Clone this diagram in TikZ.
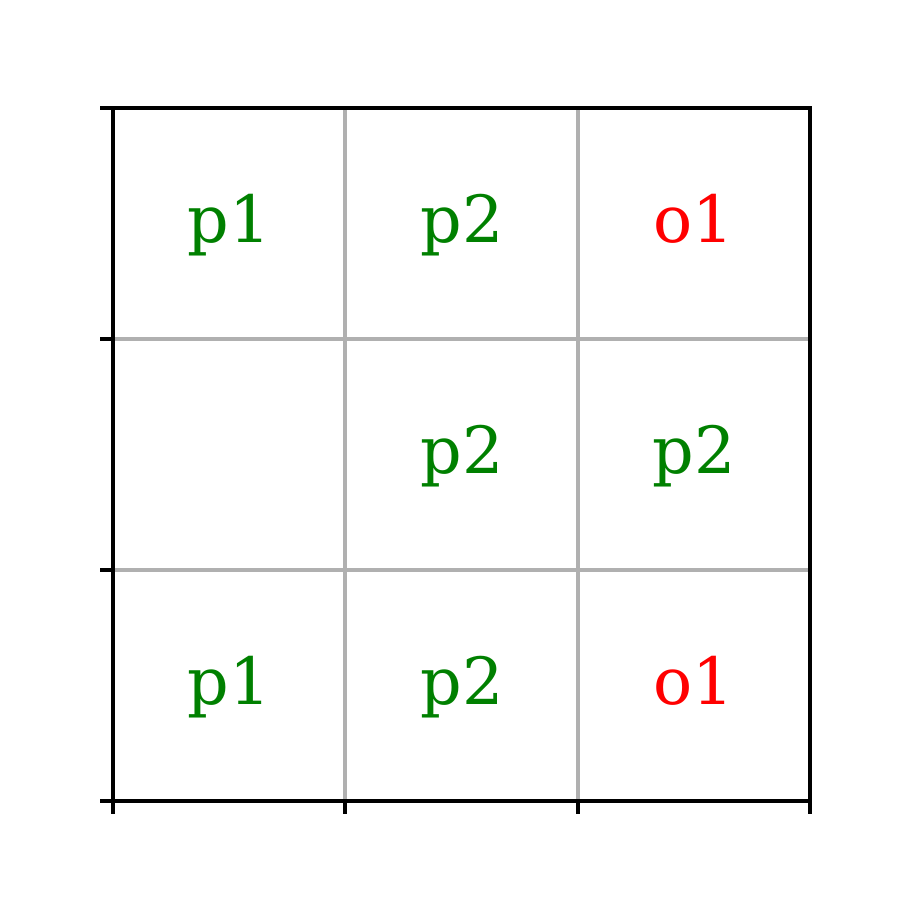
\documentclass[tikz,border=0pt]{standalone}
\usepackage{fontspec}
\setmainfont{DejaVu Serif}
\definecolor{pgreen}{RGB}{0,128,0}
\definecolor{ored}{RGB}{255,0,0}
\definecolor{gridgray}{RGB}{176,176,176}
\begin{document}
\begin{tikzpicture}[x=0.01cm, y=0.01cm,
  every node/.style = {inner sep=0pt, anchor=base, font=\fontsize{18.5}{22}\selectfont},
  pl/.style = {text=pgreen},
  op/.style = {text=ored}]
  \useasboundingbox (0,0) rectangle (900,900);
  % grid lines
  \draw[gridgray, line width=0.9pt] (345,99) -- (345,792) (578,99) -- (578,792)
    (113,330) -- (810,330) (113,561) -- (810,561);
  % frame and ticks
  \draw[black, line width=1pt] (113,99) rectangle (810,792);
  \foreach \y in {99,330,561,792}
    \draw[black, line width=1pt] (113,\y) -- (100,\y);
  \foreach \x in {113,345,578,810}
    \draw[black, line width=1pt] (\x,99) -- (\x,86);
  % cell labels
  \node[pl] (a1) at (229,657) {p1};
  \node[pl] (a2) at (462,657) {p2};
  \node[op] (a3) at (694,657) {o1};
  \node[pl] (b2) at (462,426) {p2};
  \node[pl] (b3) at (694,426) {p2};
  \node[pl] (c1) at (229,195) {p1};
  \node[pl] (c2) at (462,195) {p2};
  \node[op] (c3) at (694,195) {o1};
\end{tikzpicture}
\end{document}
